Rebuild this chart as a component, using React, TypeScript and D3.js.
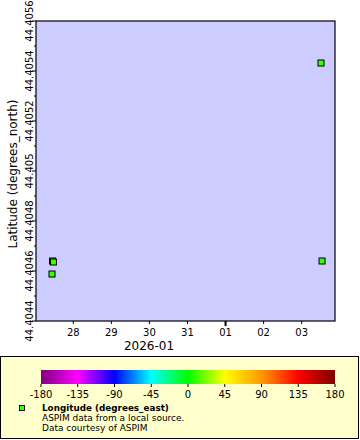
import * as d3 from 'd3';

// observations
const times = [
  '2025-12-27T10:54:00Z',
  '2025-12-27T11:30:00Z',
  '2025-12-27T10:35:00Z',
  '2026-01-03T12:10:00Z',
  '2026-01-03T12:50:00Z',
];
const lats = [44.40464, 44.404636, 44.404588, 44.405432, 44.40464];
const lons = [10, 10, 10, 10, 10];

// axes
const timeDomain = ['2025-12-27T00:30:00Z', '2026-01-03T21:00:00Z'];
const dayTicks = ['2025-12-28', '2025-12-29', '2025-12-30', '2025-12-31', '2026-01-01', '2026-01-02', '2026-01-03'];
const latDomain = [44.4044, 44.4056];
const latTicks = [44.4044, 44.4046, 44.4048, 44.405, 44.4052, 44.4054, 44.4056];
const latMinor = [44.4045, 44.4047, 44.4049, 44.4051, 44.4053, 44.4055];

// colour bar
const cbStops = [-180, -135, -90, -45, 0, 45, 90, 135, 180];
const cbColors = ['#800080', '#ff00ff', '#0000ff', '#00ffff', '#00ff00', '#ffff00', '#ff9900', '#ff0000', '#800000'];

// legend text
const legendTitle = 'Longitude (degrees_east)';
const legendLines = ['ASPIM data from a local source.', 'Data courtesy of ASPIM'];

const W = 360;
const H = 440;
const margin = { top: 21, right: 25, bottom: 119, left: 36 };
const font = 'DejaVu Sans, sans-serif';

export default function App() {
  const innerW = W - margin.left - margin.right;
  const innerH = H - margin.top - margin.bottom;

  const x = d3.scaleUtc()
    .domain(timeDomain.map(t => new Date(t)))
    .range([0, innerW]);
  const y = d3.scaleLinear().domain(latDomain).range([innerH, 0]);
  const color = d3.scaleLinear<string>().domain(cbStops).range(cbColors);

  const cbX = d3.scaleLinear().domain([-180, 180]).range([41, 335]);
  const fmtDay = d3.utcFormat('%d');

  const pts = times.map((t, i) => ({ t: new Date(t), lat: lats[i], lon: lons[i] }));

  return (
    <svg width={W} height={H} style={{ position: 'absolute', left: 0, top: 0, background: '#fff' }}
      fontFamily={font}>
      <defs>
        <linearGradient id="cb" x1="0" x2="1" y1="0" y2="0">
          {cbStops.map((s, i) => (
            <stop key={s} offset={(s + 180) / 360} stopColor={cbColors[i]} />
          ))}
        </linearGradient>
      </defs>

      <g transform={`translate(${margin.left},${margin.top})`}>
        <rect width={innerW} height={innerH} fill="#ccccff" />

        {pts.map((p, i) => (
          <rect key={i} x={x(p.t) - 3} y={y(p.lat) - 3} width={6} height={6}
            fill={color(p.lon)} stroke="#000" strokeWidth={1} />
        ))}

        <rect width={innerW} height={innerH} fill="none" stroke="#000" strokeWidth={1.2} />

        {/* y axis */}
        {latMinor.map(v => (
          <line key={v} x1={-2} x2={0} y1={y(v)} y2={y(v)} stroke="#000" />
        ))}
        {latTicks.map(v => (
          <g key={v} transform={`translate(0,${y(v)})`}>
            <line x1={-4} x2={0} stroke="#000" />
            <text transform="translate(-3,0) rotate(-90)" textAnchor="middle" fontSize={10} fill="#000">
              {String(+v.toFixed(4))}
            </text>
          </g>
        ))}

        {/* x axis */}
        {dayTicks.map(d => {
          const t = new Date(d + 'T00:00:00Z');
          const big = t.getUTCDate() === 1;
          return (
            <g key={d} transform={`translate(${x(t)},${innerH})`}>
              <line y1={0} y2={big ? 5 : 3} stroke="#000" strokeWidth={big ? 2 : 1} />
              <text y={15} textAnchor="middle" fontSize={10} fill="#000">{fmtDay(t)}</text>
            </g>
          );
        })}
      </g>

      <text x={149} y={350} textAnchor="middle" fontSize={12} fill="#000">2026-01</text>
      <text transform={`translate(17,174) rotate(-90)`} textAnchor="middle" fontSize={12} fill="#000">
        Latitude (degrees_north)
      </text>

      {/* legend */}
      <rect x={0.5} y={356.5} width={358} height={82} fill="#ffffcc" stroke="#000" strokeWidth={1} />
      <rect x={cbX(-180)} y={370} width={cbX(180) - cbX(-180)} height={14} fill="url(#cb)" />
      {cbStops.map(s => (
        <g key={s} transform={`translate(${cbX(s)},384)`}>
          <line y1={0} y2={3} stroke="#000" />
          <text y={14} textAnchor="middle" fontSize={10} fill="#000">{s}</text>
        </g>
      ))}
      <rect x={19.5} y={405.5} width={5} height={5} fill={color(lons[0])} stroke="#000" />
      <text x={42} y={410.5} fontSize={8.8} fontWeight="bold" fill="#000">{legendTitle}</text>
      {legendLines.map((l, i) => (
        <text key={l} x={42} y={420.5 + i * 10} fontSize={9} fill="#000">{l}</text>
      ))}
    </svg>
  );
}
